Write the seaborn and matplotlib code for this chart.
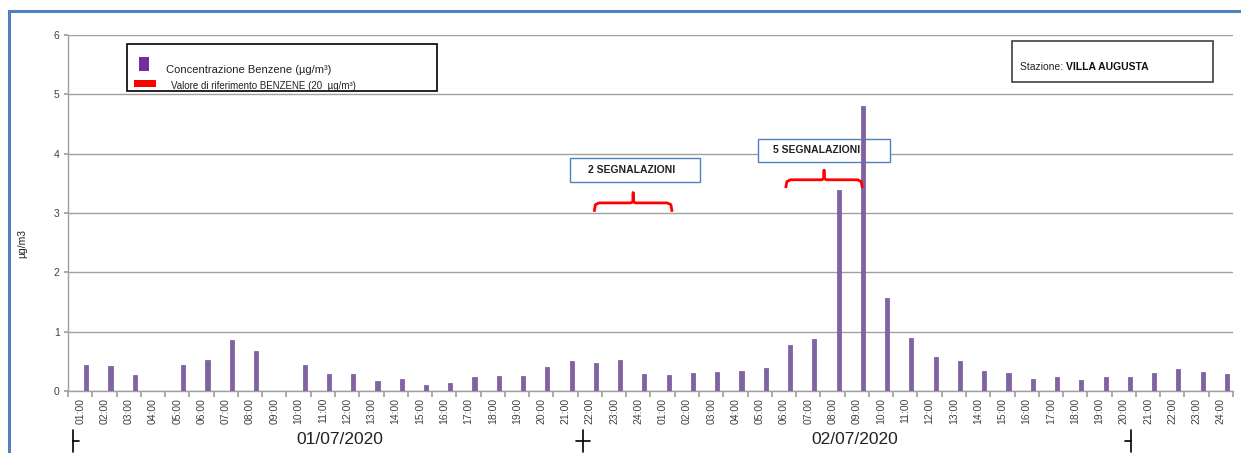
import numpy as np
import pandas as pd
import matplotlib
matplotlib.use("Agg")
import matplotlib.pyplot as plt
from matplotlib.patches import Rectangle
import seaborn as sns

# ---- data ----
ore = ["01:00","02:00","03:00","04:00","05:00","06:00","07:00","08:00","09:00","10:00",
       "11:00","12:00","13:00","14:00","15:00","16:00","17:00","18:00","19:00","20:00",
       "21:00","22:00","23:00","24:00"]
etichette = ore + ore
giorni = ["01/07/2020", "02/07/2020"]
benzene_g1 = [0.44, 0.42, 0.27, 0.00, 0.44, 0.52, 0.86, 0.67, 0.00, 0.44, 0.29, 0.29,
              0.17, 0.20, 0.10, 0.13, 0.23, 0.25, 0.25, 0.40, 0.50, 0.48, 0.52, 0.29]
benzene_g2 = [0.27, 0.30, 0.32, 0.34, 0.38, 0.77, 0.88, 3.38, 4.81, 1.56, 0.90, 0.58,
              0.50, 0.33, 0.30, 0.20, 0.23, 0.18, 0.23, 0.23, 0.30, 0.37, 0.32, 0.29]
valori = benzene_g1 + benzene_g2
y_ticks = [0, 1, 2, 3, 4, 5, 6]

W, H = 1241, 453
sns.set_theme(style="white")
plt.rcParams['font.family'] = ['Liberation Sans', 'DejaVu Sans']

fig = plt.figure(figsize=(W / 100, H / 100), dpi=100)
ax = fig.add_axes([68 / W, 1 - 391 / H, (1233 - 68) / W, (391 - 35) / H])

n = len(valori)
idx = np.arange(n)
df = pd.DataFrame({"pos": idx + 0.25, "val": valori})
sns.barplot(data=df, x="pos", y="val", native_scale=True, width=0.17,
            color="#8064A2", saturation=1, ax=ax, zorder=3,
            edgecolor="#8064A2", linewidth=0.6)

ax.set_xlim(-0.5, n - 0.5)
ax.set_ylim(0, 6)
ax.set_yticks(y_ticks)
ax.set_yticklabels([str(v) for v in y_ticks], fontsize=7.5, color="#404040")
ax.yaxis.grid(True, color="#A0A0A0", lw=1, zorder=0)
ax.set_axisbelow(True)
ax.tick_params(axis="y", length=3, color="#A0A0A0", direction="out", pad=3, left=True)

ax.set_xticks(np.arange(n + 1) - 0.5)
ax.set_xticklabels([])
ax.set_xticks(idx, minor=True)
ax.set_xticklabels(etichette, minor=True, rotation=90, fontsize=7.5, color="#404040")
ax.tick_params(axis="x", which="major", length=4, color="#A0A0A0", direction="out", bottom=True)
ax.tick_params(axis="x", which="minor", length=0, pad=5)
ax.set_xlabel("")
ax.set_ylabel("")
for s in ["top", "right"]:
    ax.spines[s].set_visible(False)
for s in ["left", "bottom"]:
    ax.spines[s].set_color("#A0A0A0")
    ax.spines[s].set_linewidth(1)

# y label
fig.text(22 / W, 1 - 243 / H, "µg/m3", rotation=90, ha="center", va="center",
         fontsize=7.5, color="#222222")

# date group labels and separators
trans = ax.get_xaxis_transform()
ax.text(10.7, -0.135, giorni[0], transform=trans, ha="center", va="center", fontsize=12.5,
        color="#222222", clip_on=False)
ax.text(31.9, -0.135, giorni[1], transform=trans, ha="center", va="center", fontsize=12.5,
        color="#222222", clip_on=False)
for xs, kind in [(-0.31, "L"), (20.72, "C"), (43.3, "R")]:
    ax.plot([xs, xs], [-0.11, -0.17], transform=trans, color="black", lw=1.2, clip_on=False)
    if kind == "L":
        hx = [xs, xs + 0.25]
    elif kind == "R":
        hx = [xs - 0.25, xs]
    else:
        hx = [xs - 0.3, xs + 0.3]
    ax.plot(hx, [-0.14, -0.14], transform=trans, color="black", lw=1.2, clip_on=False)

# red braces
def brace(x0, x1, y_end, y_top, y_nub):
    xm = (x0 + x1) / 2
    xs = [x0, x0 + 0.05, x0 + 0.2, xm - 0.1, xm, xm, xm, xm + 0.1, x1 - 0.2, x1 - 0.05, x1]
    ys = [y_end, y_top - 0.03, y_top, y_top, y_top + 0.02, y_nub, y_top + 0.02, y_top, y_top, y_top - 0.03, y_end]
    ax.plot(xs, ys, color="#FF0000", lw=2, solid_capstyle="butt", zorder=5)

brace(21.18, 24.39, 3.02, 3.17, 3.34)
brace(29.07, 32.23, 3.42, 3.56, 3.72)

# annotation boxes
def box(x0, x1, y0, y1, txt, tx):
    ax.add_patch(Rectangle((x0, y0), x1 - x0, y1 - y0, facecolor="white",
                           edgecolor="#4F81BD", lw=1, zorder=2))
    ax.text(tx, (y0 + y1) / 2, txt, ha="center", va="center", fontsize=7.5,
            fontweight="bold", color="#222222", zorder=2.5)

box(20.18, 25.54, 3.52, 3.93, "2 SEGNALAZIONI", 22.74)
box(27.93, 33.37, 3.86, 4.25, "5 SEGNALAZIONI", 30.36)

# legend box
fig.patches.append(Rectangle((127 / W, 1 - 91 / H), (437 - 127) / W, (91 - 44) / H,
                             transform=fig.transFigure, facecolor="white",
                             edgecolor="black", lw=1.2, zorder=5))
fig.patches.append(Rectangle((139 / W, 1 - 71 / H), 10 / W, 14 / H,
                             transform=fig.transFigure, facecolor="#7030A0",
                             edgecolor="none", zorder=6))
fig.patches.append(Rectangle((134 / W, 1 - 87 / H), 22 / W, 7 / H,
                             transform=fig.transFigure, facecolor="#FF0000",
                             edgecolor="none", zorder=6))
fig.text(166 / W, 1 - 70 / H, "Concentrazione Benzene (µg/m³)", fontsize=8,
         va="center", ha="left", color="#222222", zorder=7)
fig.text(171 / W, 1 - 86 / H, "Valore di riferimento BENZENE (20  µg/m³)", fontsize=7,
         va="center", ha="left", color="#222222", zorder=7)

# station box
fig.patches.append(Rectangle((1012 / W, 1 - 82 / H), (1213 - 1012) / W, (82 - 41) / H,
                             transform=fig.transFigure, facecolor="white",
                             edgecolor="#404040", lw=1.2, zorder=5))
t1 = fig.text(1020 / W, 1 - 67 / H, "Stazione: ", fontsize=7.5, va="center", ha="left",
              color="#222222", zorder=7)
fig.canvas.draw()
bb = t1.get_window_extent()
fig.text(bb.x1 / W, 1 - 67 / H, "VILLA AUGUSTA", fontsize=7.5, fontweight="bold",
         va="center", ha="left", color="#111111", zorder=7)

# outer border
fig.patches.append(Rectangle((9 / W, -0.05), 1.2, 1 - 11 / H + 0.05, transform=fig.transFigure,
                             facecolor="none", edgecolor="#4F81BD", lw=2.2, zorder=10))

fig.savefig("out.png", dpi=100)
